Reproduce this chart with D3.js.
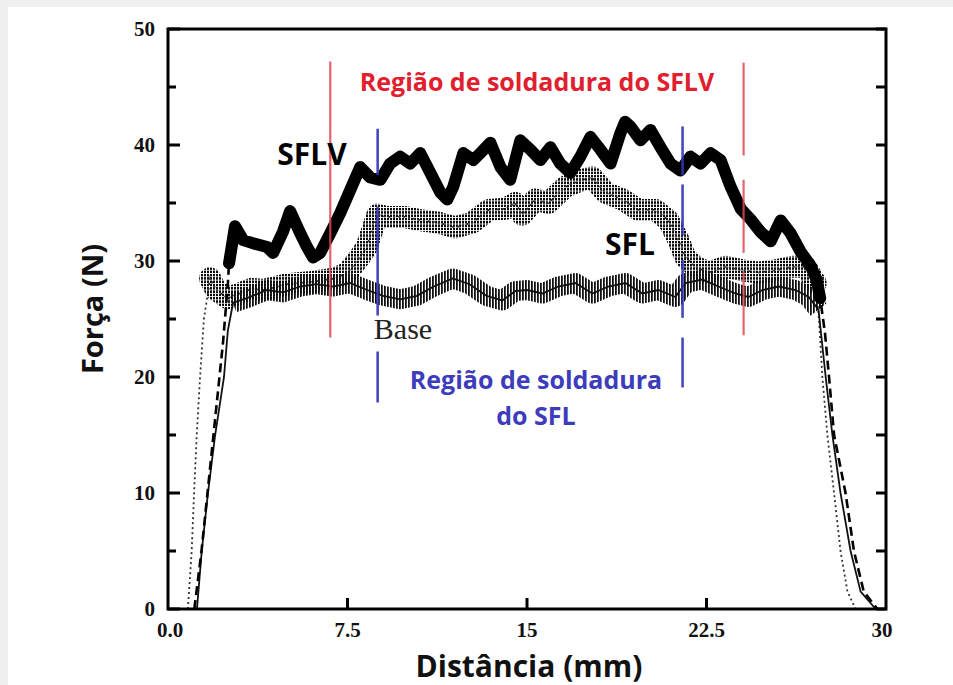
<!DOCTYPE html>
<html>
<head>
<meta charset="utf-8">
<script src="https://cdn.jsdelivr.net/npm/d3@7"></script>
<style>
  html, body { margin: 0; padding: 0; background: #ffffff; }
  svg { display: block; }
</style>
</head>
<body>
<svg id="chart" width="953" height="685"></svg>
<script>
// ---------------- data (distance mm, force N) ----------------
const sflvData = [
  [1.10,0],[1.40,5],[1.65,10],[2.00,17],[2.30,23],[2.50,28],[2.55,29.8],
  [2.80,33.0],[3.14,31.8],[3.60,31.5],[4.14,31.2],[4.39,30.7],[4.80,32.5],[5.10,34.3],
  [5.50,32.5],[5.81,31.2],[6.06,30.3],[6.36,30.7],[6.78,32.4],[7.19,34.1],[7.61,36.1],
  [8.03,38.1],[8.45,37.2],[8.87,37.0],[9.28,38.4],[9.70,39.0],[10.12,38.4],[10.54,39.3],
  [10.96,37.6],[11.38,35.9],[11.67,35.3],[11.92,36.4],[12.34,39.3],[12.76,38.7],
  [13.05,39.3],[13.47,40.2],[13.89,38.1],[14.30,37.0],[14.72,40.4],[15.14,39.6],
  [15.56,38.7],[15.98,39.8],[16.39,38.4],[16.81,37.6],[17.23,39.0],[17.65,40.7],
  [18.07,39.6],[18.49,38.4],[18.90,41.0],[19.10,42.0],[19.32,41.6],[19.74,40.4],
  [20.16,41.3],[20.58,39.8],[21.00,38.4],[21.41,37.8],[21.83,39.0],[22.25,38.4],
  [22.67,39.3],[23.09,38.7],[23.51,36.4],[23.93,34.5],[24.34,33.6],[24.76,32.5],
  [25.18,31.7],[25.60,33.5],[26.01,32.4],[26.43,30.8],[26.85,29.6],[27.10,28.4],
  [27.25,26.8],[27.45,23.8],[27.62,20],[27.83,15],[28.31,10],[28.66,5],[29.07,1.5],[29.64,0]
];
const sflData = [
  [0.83,0],[0.99,5],[1.09,10],[1.20,15],[1.34,20],[1.50,25],[1.76,28.5],
  [2.00,27.5],[2.50,26.8],[3.00,27.2],[3.50,27.6],[4.00,27.5],[5.00,28.0],[6.00,28.2],
  [7.00,28.5],[7.50,29.0],[8.00,30.3],[8.30,31.2],[8.75,34.0],[9.10,33.8],[9.90,33.8],
  [10.60,33.5],[11.30,33.3],[12.00,32.9],[12.70,33.3],[13.40,34.4],[14.10,34.5],
  [14.50,35.0],[14.80,34.0],[15.35,35.3],[15.89,35.0],[16.60,36.4],[17.31,37.0],
  [17.73,37.2],[18.28,35.9],[18.99,35.3],[19.66,34.4],[20.37,34.4],[20.91,33.5],
  [21.33,31.8],[21.62,30.3],[22.04,29.5],[22.58,29.0],[23.30,29.5],[24.00,29.2],
  [24.68,29.0],[25.39,29.2],[26.10,29.5],[26.64,29.5],[27.06,28.1],[27.20,25.0],
  [27.34,20],[27.55,15],[27.83,10],[28.10,5],[28.39,1.5],[28.73,0]
];
const baseData = [
  [1.21,0],[1.41,5],[1.67,10],[1.97,15],[2.34,20],[2.50,24],[2.72,26.4],
  [3.30,26.8],[4.14,27.5],[4.80,27.3],[5.52,27.8],[6.20,28.0],[6.90,27.8],[7.60,28.1],
  [8.32,27.5],[8.99,27.0],[9.70,26.7],[10.40,27.0],[11.10,27.8],[11.90,28.5],
  [12.60,28.0],[13.30,27.0],[13.97,26.6],[14.50,27.4],[15.00,27.5],[15.64,27.2],
  [16.31,27.8],[17.02,28.1],[17.73,27.2],[18.40,27.8],[19.11,28.1],[19.82,27.2],
  [20.49,27.5],[21.20,26.9],[21.62,28.1],[22.33,28.4],[23.00,27.8],[23.71,27.2],
  [24.25,26.9],[24.84,27.5],[25.51,27.8],[26.22,27.5],[26.77,26.9],[27.18,25.8],
  [27.48,20],[27.76,15],[28.10,10],[28.52,5],[28.94,1.5],[29.57,0]
];
// plateau ranges (mm) where the noisy band is drawn
const sflvBand = [2.55, 27.25];
const sflBand = [1.76, 27.10];
const baseBand = [2.72, 27.18];

// weld-region markers: x (mm) and [from, to] force segments
const redMarkers = [
  { x: 6.78, segs: [[47.2, 23.4]] },
  { x: 24.05, segs: [[47.1, 39.1], [37.0, 30.7], [29.1, 23.6]] }
];
const blueMarkers = [
  { x: 8.76, segs: [[41.4, 37.4], [34.7, 25.3], [22.2, 17.8]] },
  { x: 21.5, segs: [[41.6, 37.4], [36.6, 32.2], [30.1, 25.1], [23.4, 19.1]] }
];

const xTicks = [0, 7.5, 15, 22.5, 30];
const xTickLabels = ["0.0", "7.5", "15", "22.5", "30"];
const yTicks = [0, 10, 20, 30, 40, 50];
const yMinorTicks = [5, 15, 25, 35, 45];

// ---------------- drawing ----------------
const svg = d3.select("#chart");
const W = 953, H = 685;
const M = { left: 168, right: 886, top: 29, bottom: 609 };

// light grey border strips of the original picture
svg.append("rect").attr("x", 0).attr("y", 0).attr("width", W).attr("height", 7).attr("fill", "#f0f0f0");
svg.append("rect").attr("x", 0).attr("y", 0).attr("width", 8).attr("height", H).attr("fill", "#f0f0f0");

const x = d3.scaleLinear().domain([0, 30]).range([M.left, M.right]);
const y = d3.scaleLinear().domain([0, 50]).range([M.bottom, M.top]);

const defs = svg.append("defs");
const hatch = defs.append("pattern").attr("id", "hatch").attr("patternUnits", "userSpaceOnUse")
  .attr("width", 3.0).attr("height", 4);
hatch.append("rect").attr("x", 0).attr("y", 0).attr("width", 1.8).attr("height", 4).attr("fill", "#111");
const dots = defs.append("pattern").attr("id", "dots").attr("patternUnits", "userSpaceOnUse")
  .attr("width", 3.0).attr("height", 3.3);
dots.append("rect").attr("x", 0).attr("y", 0).attr("width", 2.0).attr("height", 2.5).attr("fill", "#0a0a0a");

defs.append("clipPath").attr("id", "plotclip").append("rect")
  .attr("x", M.left).attr("y", M.top).attr("width", M.right - M.left).attr("height", M.bottom - M.top);

const line = d3.line().x(d => x(d[0])).y(d => y(d[1])).curve(d3.curveLinear);
const inBand = (r) => (d) => d[0] >= r[0] && d[0] <= r[1];

const g = svg.append("g").attr("clip-path", "url(#plotclip)");

// SFL (dotted)
g.append("path").datum(sflData.filter(inBand(sflBand))).attr("d", line)
  .attr("fill", "none").attr("stroke", "url(#dots)").attr("stroke-width", 22)
  .attr("stroke-linejoin", "round").attr("stroke-linecap", "round");
g.append("path").datum(sflData).attr("d", line)
  .attr("fill", "none").attr("stroke", "#333").attr("stroke-width", 1.8)
  .attr("stroke-dasharray", "2,3");

// Base (hatched)
g.append("path").datum(baseData.filter(inBand(baseBand))).attr("d", line)
  .attr("fill", "none").attr("stroke", "url(#hatch)").attr("stroke-width", 20)
  .attr("stroke-linejoin", "round");
g.append("path").datum(baseData).attr("d", line)
  .attr("fill", "none").attr("stroke", "#111").attr("stroke-width", 1.8);

// SFLV (thick, dashed ramps)
g.append("path").datum(sflvData).attr("d", line)
  .attr("fill", "none").attr("stroke", "#000").attr("stroke-width", 2.6)
  .attr("stroke-dasharray", "9,5");
g.append("path").datum(sflvData.filter(inBand(sflvBand))).attr("d", line)
  .attr("fill", "none").attr("stroke", "#000").attr("stroke-width", 12)
  .attr("stroke-linejoin", "round").attr("stroke-linecap", "round");

// markers
function drawMarkers(list, color, width, opacity) {
  list.forEach(m => {
    m.segs.forEach(s => {
      svg.append("line").attr("x1", x(m.x)).attr("x2", x(m.x))
        .attr("y1", y(s[0])).attr("y2", y(s[1]))
        .attr("stroke", color).attr("stroke-width", width).attr("opacity", opacity);
    });
  });
}
drawMarkers(redMarkers, "#e04a55", 2.2, 0.85);
drawMarkers(blueMarkers, "#3434b8", 2.6, 0.9);

// frame
svg.append("rect").attr("x", M.left).attr("y", M.top)
  .attr("width", M.right - M.left).attr("height", M.bottom - M.top)
  .attr("fill", "none").attr("stroke", "#000").attr("stroke-width", 3);

// ticks
yTicks.forEach(v => {
  svg.append("line").attr("x1", M.left).attr("x2", M.left + 12).attr("y1", y(v)).attr("y2", y(v))
    .attr("stroke", "#000").attr("stroke-width", 3);
});
yMinorTicks.forEach(v => {
  svg.append("line").attr("x1", M.left).attr("x2", M.left + 8).attr("y1", y(v)).attr("y2", y(v))
    .attr("stroke", "#000").attr("stroke-width", 3);
});
yTicks.concat(yMinorTicks).forEach(v => {
  svg.append("line").attr("x1", M.right).attr("x2", M.right - 10).attr("y1", y(v)).attr("y2", y(v))
    .attr("stroke", "#000").attr("stroke-width", 3);
});
xTicks.slice(1, -1).forEach(v => {
  svg.append("line").attr("x1", x(v)).attr("x2", x(v)).attr("y1", M.bottom).attr("y2", M.bottom - 11)
    .attr("stroke", "#000").attr("stroke-width", 3);
});

// tick labels
const serif = "'Liberation Serif', 'Times New Roman', serif";
yTicks.forEach(v => {
  svg.append("text").attr("x", 155).attr("y", y(v)).attr("dy", "0.35em")
    .attr("text-anchor", "end").attr("font-family", serif).attr("font-weight", "bold")
    .attr("font-size", 21).attr("fill", "#111").text(v);
});
xTicks.forEach((v, i) => {
  svg.append("text").attr("x", x(v) + (i === 0 ? 2 : (i === xTicks.length - 1 ? -4 : 0))).attr("y", 637)
    .attr("text-anchor", "middle").attr("font-family", serif).attr("font-weight", "bold")
    .attr("font-size", 21).attr("fill", "#111").text(xTickLabels[i]);
});

// axis titles
const sans = "'Open Sans', 'Noto Sans', sans-serif";
svg.append("text").attr("x", 529).attr("y", 677).attr("text-anchor", "middle")
  .attr("font-family", sans).attr("font-weight", "bold").attr("font-size", 30).attr("fill", "#111")
  .text("Distância (mm)");
svg.append("text").attr("transform", "translate(103,309) rotate(-90)").attr("text-anchor", "middle")
  .attr("font-family", sans).attr("font-weight", "bold").attr("font-size", 29).attr("fill", "#111")
  .text("Força (N)");

// annotations
svg.append("text").attr("x", 537).attr("y", 91).attr("text-anchor", "middle")
  .attr("font-family", sans).attr("font-weight", "bold").attr("font-size", 25).attr("fill", "#e0202e")
  .text("Região de soldadura do SFLV");
svg.append("text").attr("x", 536).attr("y", 389).attr("text-anchor", "middle")
  .attr("font-family", sans).attr("font-weight", "bold").attr("font-size", 25).attr("fill", "#3c3cbc")
  .text("Região de soldadura");
svg.append("text").attr("x", 536).attr("y", 425).attr("text-anchor", "middle")
  .attr("font-family", sans).attr("font-weight", "bold").attr("font-size", 25).attr("fill", "#3c3cbc")
  .text("do SFL");
svg.append("text").attr("x", 312).attr("y", 165).attr("text-anchor", "middle")
  .attr("font-family", sans).attr("font-weight", "bold").attr("font-size", 30).attr("fill", "#000")
  .text("SFLV");
svg.append("text").attr("x", 630).attr("y", 255).attr("text-anchor", "middle")
  .attr("font-family", sans).attr("font-weight", "bold").attr("font-size", 30).attr("fill", "#000")
  .text("SFL");
svg.append("text").attr("x", 403).attr("y", 339).attr("text-anchor", "middle")
  .attr("font-family", serif).attr("font-size", 30).attr("fill", "#222")
  .text("Base");
</script>
</body>
</html>
